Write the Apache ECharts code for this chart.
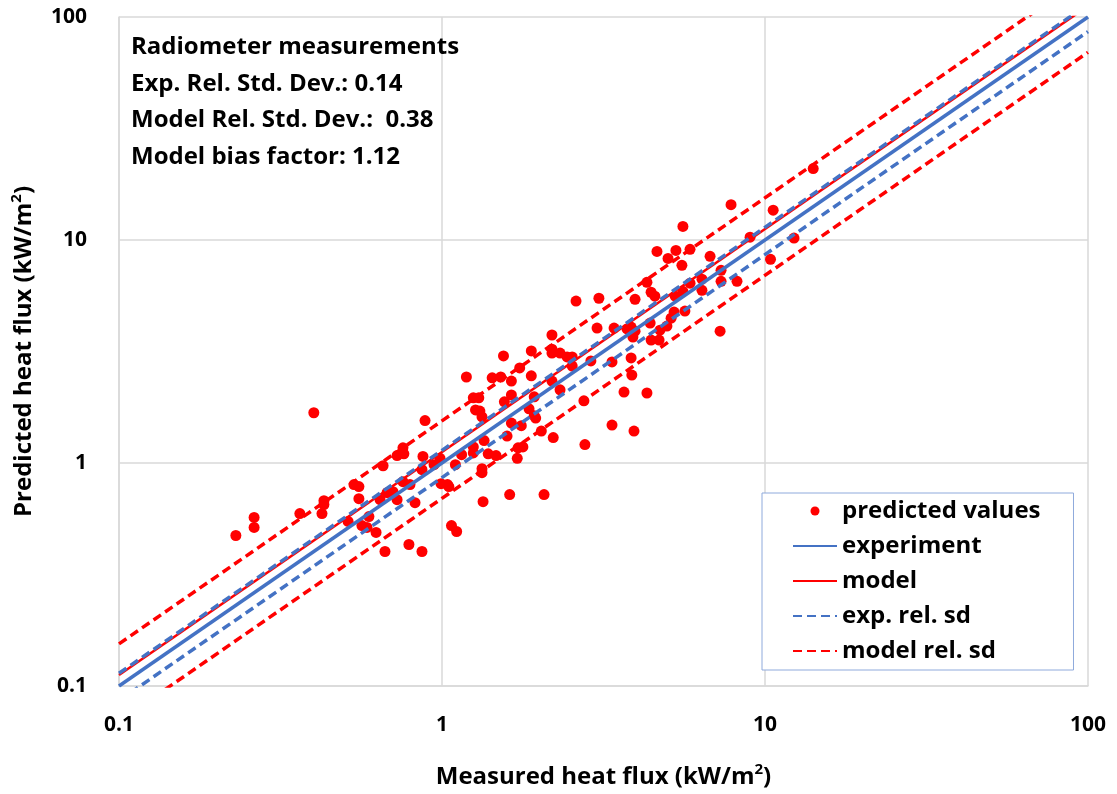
<!DOCTYPE html>
<html><head><meta charset="utf-8">
<script src="https://cdn.jsdelivr.net/npm/echarts@6/dist/echarts.min.js"></script>
<style>html,body{margin:0;padding:0;background:#fff}#c{width:1117px;height:794px}</style>
</head><body><div id="c"></div>
<script>
// Measured heat flux (kW/m2)
const measured = [
  0.230,0.262,0.262,0.363,0.401,0.425,0.431,0.431,0.512,0.534,
  0.553,0.553,0.565,0.586,0.594,0.625,0.643,0.657,0.666,0.676,
  0.705,0.726,0.726,0.757,0.762,0.757,0.790,0.796,0.825,0.867,
  0.867,0.873,0.886,0.945,0.986,0.993,1.04,1.05,1.07,1.11,
  1.10,1.15,1.19,1.25,1.30,1.27,1.31,1.33,1.25,1.25,
  1.33,1.33,1.34,1.35,1.39,1.47,1.43,1.52,1.64,1.55,
  1.56,1.64,1.59,1.64,1.62,1.72,1.71,1.74,1.76,1.78,
  1.89,1.89,1.93,1.86,1.93,1.95,2.03,2.07,2.19,2.19,
  2.19,2.19,2.21,2.32,2.44,2.53,2.53,2.32,2.60,2.75,
  2.77,2.89,3.02,3.06,3.36,3.36,3.41,3.66,3.74,3.85,
  3.85,3.87,3.90,3.93,3.96,3.96,4.31,4.31,4.41,4.44,
  4.44,4.56,4.63,4.70,4.73,4.97,5.01,5.12,5.23,5.27,
  5.30,5.57,5.53,5.57,5.65,5.86,5.86,6.38,6.38,6.76,
  7.26,7.31,7.31,7.85,8.19,8.99,10.4,10.6,12.3,14.1
];
// Predicted heat flux (kW/m2)
const predicted = [
  0.473,0.570,0.514,0.593,1.68,0.593,0.678,0.651,0.547,0.80,
  0.784,0.692,0.524,0.514,0.575,0.488,0.685,0.972,0.401,0.736,
  0.744,1.08,0.685,1.17,1.10,0.825,0.431,0.80,0.664,0.933,
  0.401,1.07,1.55,0.983,1.05,0.808,0.80,0.784,0.524,0.493,
  0.983,1.09,2.43,1.96,1.96,1.73,1.71,1.61,1.18,1.11,
  0.943,0.905,0.671,1.26,1.10,1.08,2.41,2.43,2.33,3.02,
  1.88,2.02,1.32,1.51,0.722,1.17,1.05,2.67,1.47,1.18,
  3.18,2.46,1.98,1.75,1.63,1.59,1.39,0.722,3.75,3.24,
  3.11,2.33,1.30,3.11,2.99,2.99,2.72,2.13,5.32,1.90,
  1.21,2.87,4.03,5.48,2.84,1.48,4.03,2.08,3.99,4.07,
  2.96,2.48,3.67,1.39,5.42,3.90,6.46,2.06,4.24,5.83,
  3.56,5.60,8.89,3.56,3.94,4.11,8.27,4.46,4.75,5.60,
  8.98,11.5,7.70,5.89,4.80,9.08,6.40,6.67,5.95,8.45,
  3.90,7.31,6.53,14.4,6.53,10.3,8.19,13.6,10.2,20.9
];
const axisTicks = ['0.1', '1', '10', '100'];
const lineX = [0.1, 100];
const biasFactor = 1.12;
const expRelSD = 0.14;
const modelRelSD = 0.38;
const annotationLines = [
  'Radiometer measurements',
  'Exp. Rel. Std. Dev.: 0.14',
  'Model Rel. Std. Dev.:  0.38',
  'Model bias factor: 1.12'
];
const legendNames = ['predicted values', 'experiment', 'model', 'exp. rel. sd', 'model rel. sd'];

const FONT = 'Open Sans';
const BLUE = '#4472C4';
const RED = '#FF0000';
const GRID = '#D9D9D9';

function lineData(f) { return lineX.map(x => [x, f * x]); }
const points = measured.map((m, i) => [m, predicted[i]]);

function lineSeries(name, factor, color, width, dashed) {
  return {
    name: name, type: 'line', data: lineData(factor), symbol: 'none',
    clip: true, silent: true, animation: false,
    lineStyle: { color: color, width: width, type: dashed ? [9, 5] : 'solid' },
    itemStyle: { color: color }
  };
}

function tickFormatter(v) {
  return axisTicks.find(t => Math.abs(parseFloat(t) - v) < 1e-9 * Math.max(1, v)) || String(v);
}

function axisCommon(extra) {
  return Object.assign({
    type: 'log', logBase: 10, min: 0.1, max: 100,
    axisLine: { show: true, lineStyle: { color: GRID, width: 1.5 } },
    axisTick: { show: false },
    minorTick: { show: false },
    splitLine: { show: true, lineStyle: { color: GRID, width: 1.5 } },
    nameLocation: 'middle'
  }, extra);
}

const richName = {
  t: { fontSize: 24, fontWeight: 'bold', fontFamily: FONT, color: '#000', lineHeight: 30 },
  s: { fontSize: 15, fontWeight: 'bold', fontFamily: FONT, color: '#000', lineHeight: 15, verticalAlign: 'top' }
};

const hiddenSymbol = { opacity: 0 };

const chart = echarts.init(document.getElementById('c'), null, { renderer: 'canvas' });
chart.setOption({
  animation: false,
  backgroundColor: '#fff',
  title: {
    text: annotationLines.join('\n'),
    left: 131, top: 29, padding: 0,
    textStyle: { fontSize: 24, fontWeight: 'bold', fontFamily: FONT, color: '#000', lineHeight: 36.5 }
  },
  grid: { left: 119, right: 29, top: 17, bottom: 106, containLabel: false },
  xAxis: axisCommon({
    name: '{t|Measured heat flux (kW/m}{s|2}{t|)}',
    nameGap: 76,
    nameTextStyle: { rich: richName },
    axisLabel: { fontSize: 21, fontWeight: 'bold', fontFamily: FONT, color: '#000', margin: 29, formatter: tickFormatter }
  }),
  yAxis: axisCommon({
    name: '{t|Predicted heat flux (kW/m}{s|2}{t|)}',
    nameGap: 80,
    nameRotate: 90,
    nameTextStyle: { rich: richName },
    axisLabel: { fontSize: 21, fontWeight: 'bold', fontFamily: FONT, color: '#000', margin: 32, formatter: tickFormatter }
  }),
  legend: {
    orient: 'vertical', left: 762, top: 493,
    padding: [6, 33, 7, 30],
    itemWidth: 44, itemHeight: 9, itemGap: 11,
    backgroundColor: '#fff', borderColor: '#8FAADC', borderWidth: 1,
    textStyle: { fontSize: 24, fontWeight: 'bold', fontFamily: FONT, color: '#000', lineHeight: 24 },
    data: [
      { name: legendNames[0] },
      { name: legendNames[1], itemStyle: hiddenSymbol },
      { name: legendNames[2], itemStyle: hiddenSymbol },
      { name: legendNames[3], itemStyle: hiddenSymbol },
      { name: legendNames[4], itemStyle: hiddenSymbol }
    ]
  },
  series: [
    { name: legendNames[0], type: 'scatter', data: points, symbol: 'circle', symbolSize: 11,
      itemStyle: { color: RED, opacity: 1 }, animation: false },
    lineSeries(legendNames[1], 1, BLUE, 3.5, false),
    lineSeries(legendNames[2], biasFactor, RED, 2.5, false),
    lineSeries(legendNames[3], 1 + expRelSD, BLUE, 3.5, true),
    lineSeries(legendNames[3], 1 - expRelSD, BLUE, 3.5, true),
    lineSeries(legendNames[4], biasFactor * (1 + modelRelSD), RED, 3.5, true),
    lineSeries(legendNames[4], biasFactor * (1 - modelRelSD), RED, 3.5, true)
  ]
});
</script>
</body></html>
